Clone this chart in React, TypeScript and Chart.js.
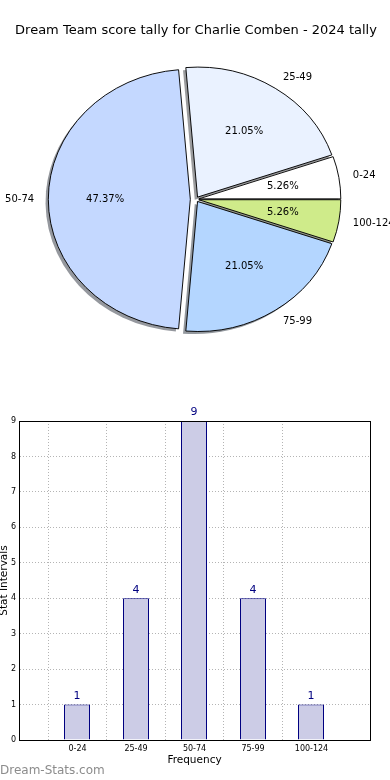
import React, { useEffect, useRef } from 'react';
import { Chart, registerables } from 'chart.js';

Chart.register(...registerables);

// ---------- data ----------
const chartTitle = 'Dream Team score tally for Charlie Comben - 2024 tally';
const categories = ['0-24', '25-49', '50-74', '75-99', '100-124'];
const counts = [1, 4, 9, 4, 1];
const sliceColors = ['#ffffff', '#eaf2ff', '#c4d8ff', '#b4d6ff', '#cfeb8a'];
const explode = [0.02, 0.02, 0.04, 0.02, 0.02];
const xAxisTitle = 'Frequency';
const yAxisTitle = 'Stat Intervals';
const yMin = 0;
const yMax = 9;
const watermark = 'Dream-Stats.com';

// ---------- styling ----------
const FONT = "'DejaVu Sans', 'Liberation Sans', sans-serif";
const PIE_R = 130;
const PIE_SX = 142 / 130;
const BAR_FILL = '#ccccE6';
const BAR_EDGE = '#000080';
const GRID = '#b4b4b4';

Chart.defaults.font.family = FONT;

// Chart.js draws clockwise, matplotlib counter-clockwise: reverse order
const pieOrder = categories.map((_, i) => categories.length - 1 - i);
const total = counts.reduce((a, b) => a + b, 0);

function shadowOf(hex: string) {
  const n = parseInt(hex.slice(1), 16);
  const c = [(n >> 16) & 255, (n >> 8) & 255, n & 255].map((v) => Math.round(0.15 * v + 120));
  return `rgb(${c[0]},${c[1]},${c[2]})`;
}

const mplPiePlugin = {
  id: 'mplPie',
  afterDatasetUpdate(chart: any) {
    const meta = chart.getDatasetMeta(0);
    meta.data.forEach((arc: any, k: number) => {
      const e = explode[pieOrder[k]];
      const mid = (arc.startAngle + arc.endAngle) / 2;
      arc.x += Math.cos(mid) * e * arc.outerRadius;
      arc.y += Math.sin(mid) * e * arc.outerRadius;
    });
  },
  beforeDatasetsDraw(chart: any) {
    const ctx = chart.ctx;
    const { left, right, top, bottom } = chart.chartArea;
    const cx = (left + right) / 2;
    const cy = (top + bottom) / 2;
    ctx.save();
    ctx.translate(cx, cy);
    ctx.scale(PIE_SX, 1);
    ctx.translate(-cx, -cy);
    const meta = chart.getDatasetMeta(0);
    meta.data.forEach((arc: any, k: number) => {
      const sx = arc.x - 2.8 / PIE_SX;
      const sy = arc.y + 2.6;
      ctx.beginPath();
      ctx.moveTo(sx, sy);
      ctx.arc(sx, sy, arc.outerRadius, arc.startAngle, arc.endAngle);
      ctx.closePath();
      ctx.fillStyle = shadowOf(sliceColors[pieOrder[k]]);
      ctx.fill();
    });
  },
  afterDatasetsDraw(chart: any) {
    const ctx = chart.ctx;
    ctx.restore();
    const { left, right } = chart.chartArea;
    const cx = (left + right) / 2;
    const meta = chart.getDatasetMeta(0);
    ctx.save();
    ctx.fillStyle = '#000';
    ctx.font = `10px ${FONT}`;
    ctx.textBaseline = 'middle';
    meta.data.forEach((arc: any, k: number) => {
      const i = pieOrder[k];
      const mid = (arc.startAngle + arc.endAngle) / 2;
      const R = arc.outerRadius;
      const c = Math.cos(mid);
      const s = Math.sin(mid);
      const px = cx + (arc.x + c * 0.6 * R - cx) * PIE_SX;
      const py = arc.y + s * 0.6 * R;
      ctx.textAlign = 'center';
      ctx.fillText(((counts[i] / total) * 100).toFixed(2) + '%', px, py);
      const lx = cx + (arc.x + c * 1.1 * R - cx) * PIE_SX;
      const ly = arc.y + s * 1.1 * R;
      ctx.textAlign = c > 0 ? 'left' : 'right';
      ctx.fillText(categories[i], lx, ly);
    });
    ctx.restore();
  },
};

const barLabels = ['', ...categories, ''];
const barValues = [null, ...counts, null];

const barExtrasPlugin = {
  id: 'barExtras',
  afterDatasetUpdate(chart: any) {
    // pixel-snap bars like the original renderer
    const meta = chart.getDatasetMeta(0);
    meta.data.forEach((b: any) => {
      b.x = Math.floor(b.x);
      b.width = Math.round(b.width);
    });
  },
  afterDraw(chart: any) {
    const ctx = chart.ctx;
    const { left, right, top, bottom } = chart.chartArea;
    ctx.save();
    ctx.strokeStyle = '#000';
    ctx.lineWidth = 1;
    ctx.setLineDash([]);
    const x0 = Math.floor(left) + 0.5;
    const x1 = Math.floor(right) + 0.5;
    const y0 = Math.floor(top) + 0.5;
    const y1 = Math.floor(bottom) + 0.5;
    ctx.strokeRect(x0, y0, x1 - x0, y1 - y0);
    const meta = chart.getDatasetMeta(0);
    ctx.fillStyle = BAR_EDGE;
    ctx.font = `11px ${FONT}`;
    ctx.textAlign = 'center';
    ctx.textBaseline = 'bottom';
    meta.data.forEach((bar: any, i: number) => {
      const v = barValues[i];
      if (v === null || v === undefined) return;
      ctx.fillText(String(v), bar.x, bar.y - 3);
    });
    ctx.restore();
  },
};

export default function App() {
  const pieRef = useRef<HTMLCanvasElement>(null);
  const barRef = useRef<HTMLCanvasElement>(null);

  useEffect(() => {
    document.body.style.margin = '0';
    const pie = new Chart(pieRef.current as HTMLCanvasElement, {
      type: 'pie',
      data: {
        labels: pieOrder.map((i) => categories[i]),
        datasets: [
          {
            data: pieOrder.map((i) => counts[i]),
            backgroundColor: pieOrder.map((i) => sliceColors[i]),
            borderColor: '#000',
            borderWidth: 0.9,
            borderJoinStyle: 'miter',
            radius: PIE_R,
          } as any,
        ],
      },
      options: {
        animation: false,
        responsive: false,
        events: [],
        rotation: 90,
        radius: PIE_R,
        layout: { padding: { top: 0, left: 2, right: 0, bottom: 29.8 } },
        plugins: {
          legend: { display: false },
          tooltip: { enabled: false },
          title: {
            display: true,
            text: chartTitle,
            color: '#000',
            font: { family: FONT, size: 13, weight: 'normal' },
            padding: { top: 22.8, bottom: 0 },
          },
        },
      } as any,
      plugins: [mplPiePlugin],
    });

    const bar = new Chart(barRef.current as HTMLCanvasElement, {
      type: 'bar',
      data: {
        labels: barLabels,
        datasets: [
          {
            data: barValues,
            backgroundColor: BAR_FILL,
            borderColor: BAR_EDGE,
            borderWidth: 1,
            categoryPercentage: 1,
            barPercentage: 0.444,
          } as any,
        ],
      },
      options: {
        animation: false,
        responsive: false,
        events: [],
        layout: { padding: { top: 31, right: 20, bottom: 0, left: 0 } },
        plugins: { legend: { display: false }, tooltip: { enabled: false } },
        scales: {
          x: {
            offset: false,
            z: 1,
            grid: {
              color: (c: any) => (c.index === 0 || c.index === barLabels.length - 1 ? 'rgba(0,0,0,0)' : GRID),
              lineWidth: 1,
              drawTicks: false,
            },
            border: { display: true, color: '#000', width: 1, dash: [1, 2] },
            ticks: { color: '#000', font: { family: FONT, size: 8 }, padding: 4, maxRotation: 0, autoSkip: false },
            title: {
              display: true,
              text: xAxisTitle,
              color: '#000',
              font: { family: FONT, size: 10.5 },
              padding: { top: 0, bottom: 13.7 },
            },
            afterFit: (s: any) => {
              s.height = 40;
            },
          },
          y: {
            min: yMin,
            max: yMax,
            z: 1,
            grid: { color: GRID, lineWidth: 1, drawTicks: false },
            border: { display: true, color: '#000', width: 1, dash: [1, 2] },
            ticks: { stepSize: 1, color: '#000', font: { family: FONT, size: 8 }, padding: 3 },
            title: {
              display: true,
              text: yAxisTitle,
              color: '#000',
              font: { family: FONT, size: 10.5 },
              padding: { top: -2.5, bottom: 0 },
            },
            afterFit: (s: any) => {
              s.width = 19;
            },
          },
        },
      } as any,
      plugins: [barExtrasPlugin],
    });

    return () => {
      pie.destroy();
      bar.destroy();
    };
  }, []);

  return (
    <div style={{ position: 'relative', width: 390, height: 780, background: '#fff', overflow: 'hidden' }}>
      <canvas
        ref={pieRef}
        width={390}
        height={390}
        style={{ position: 'absolute', left: 0, top: 0, width: 390, height: 390, display: 'block' }}
      />
      <canvas
        ref={barRef}
        width={390}
        height={390}
        style={{ position: 'absolute', left: 0, top: 390, width: 390, height: 390, display: 'block' }}
      />
      <div
        style={{
          position: 'absolute',
          left: 0,
          top: 763,
          fontFamily: FONT,
          fontSize: 12,
          lineHeight: '14px',
          color: '#8c8c8c',
          whiteSpace: 'nowrap',
        }}
      >
        {watermark}
      </div>
    </div>
  );
}
